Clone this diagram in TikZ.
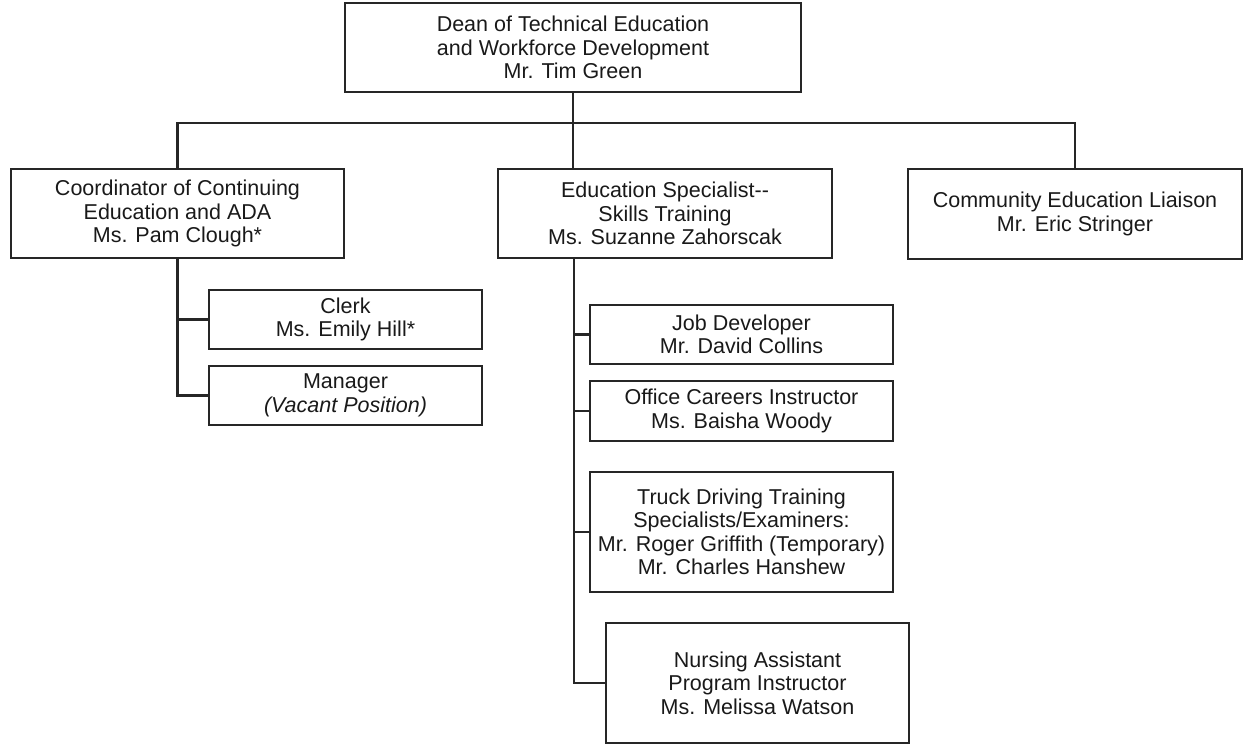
\documentclass[tikz,border=0pt]{standalone}
\usepackage{fontspec}
\setmainfont{Liberation Sans}
\begin{document}
\begin{tikzpicture}[x=1pt,y=-1pt,
  orgbox/.style={draw=black!85, line width=2.2pt, align=center, inner sep=0pt,
    font=\fontsize{21.5}{23.5}\selectfont, text=black!90},
  link/.style={draw=black!85, line width=2.2pt}]
\useasboundingbox (0,0) rectangle (1247,744);
\node[orgbox, minimum width=456pt, minimum height=89pt] (dean) at (573,47.5)
  {Dean of Technical Education\\and Workforce Development\\Mr. Tim Green};
\node[orgbox, minimum width=333pt, minimum height=89pt] (coord) at (177.5,213.5)
  {Coordinator of Continuing\\Education and ADA\\Ms. Pam Clough*};
\node[orgbox, minimum width=334pt, minimum height=89pt] (edu) at (665,213.5)
  {Education Specialist-{}-\\Skills Training\\Ms. Suzanne Zahorscak};
\node[orgbox, minimum width=334pt, minimum height=90pt] (comm) at (1075,214)
  {Community Education Liaison\\Mr. Eric Stringer};
\node[orgbox, minimum width=273pt, minimum height=59pt] (clerk) at (345.5,319.5)
  {Clerk\\Ms. Emily Hill*};
\node[orgbox, minimum width=273pt, minimum height=59pt] (manager) at (345.5,395.5)
  {Manager\\\textit{(Vacant Position)}};
\node[orgbox, minimum width=303pt, minimum height=59pt] (job) at (741.5,334.5)
  {Job Developer\\Mr. David Collins};
\node[orgbox, minimum width=303pt, minimum height=60pt] (office) at (741.5,411)
  {Office Careers Instructor\\Ms. Baisha Woody};
\node[orgbox, minimum width=303pt, minimum height=120pt] (truck) at (741.5,532)
  {Truck Driving Training\\Specialists/Examiners:\\Mr. Roger Griffith (Temporary)\\Mr. Charles Hanshew};
\node[orgbox, minimum width=303pt, minimum height=120pt] (nursing) at (757.5,683)
  {Nursing Assistant\\Program Instructor\\Ms. Melissa Watson};
\coordinate (bus) at (0,123);
\coordinate (spine) at (574,0);
% top level
\draw[link] (dean.south) -- (dean.south |- edu.north);
\draw[link] (coord.north) -- (coord.north |- bus) -- (comm.north |- bus) -- (comm.north);
% coordinator branch
\draw[link] (coord.south) |- (manager.west);
\draw[link] (coord.south |- clerk.west) -- (clerk.west);
% education specialist branch
\draw[link] (spine |- edu.south) |- (nursing.west);
\draw[link] (spine |- job.west) -- (job.west);
\draw[link] (spine |- office.west) -- (office.west);
\draw[link] (spine |- truck.west) -- (truck.west);
\end{tikzpicture}
\end{document}
